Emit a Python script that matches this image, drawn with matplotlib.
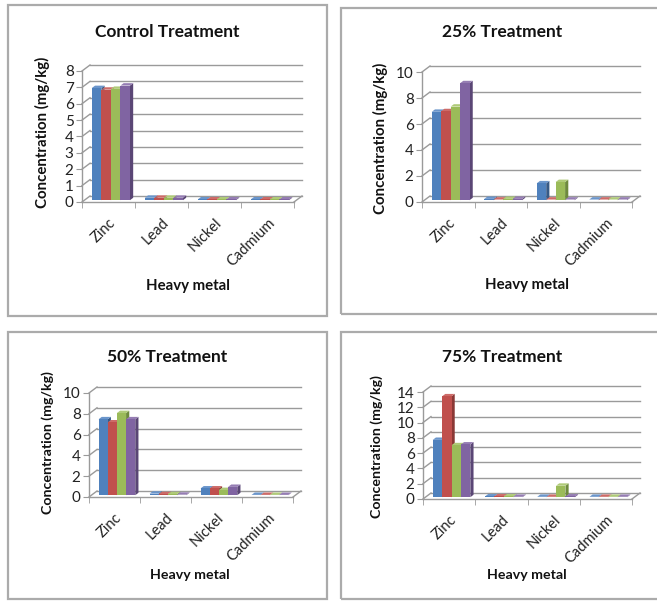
import matplotlib
matplotlib.use("Agg")
import matplotlib.pyplot as plt
from matplotlib.patches import Polygon, Rectangle

plt.rcParams["font.family"] = ["Lato", "DejaVu Sans"]

metals = ["Zinc", "Lead", "Nickel", "Cadmium"]
front_colors = ["#4F81BD", "#C0504D", "#9BBB59", "#8064A2"]
side_colors = ["#375A86", "#8A3835", "#6E8A3D", "#5A4675"]
top_colors = ["#6A95CB", "#CD6B68", "#AFCA78", "#957DB3"]

# rows = the four series, columns = metals
control = [
    [6.85, 0.15, 0.05, 0.05],
    [6.75, 0.15, 0.05, 0.05],
    [6.8, 0.15, 0.05, 0.05],
    [7.0, 0.15, 0.05, 0.05],
]
treat25 = [
    [6.8, 0.1, 1.3, 0.05],
    [6.85, 0.05, 0.05, 0.05],
    [7.2, 0.1, 1.4, 0.05],
    [9.0, 0.1, 0.05, 0.05],
]
treat50 = [
    [7.3, 0.15, 0.65, 0.03],
    [7.0, 0.1, 0.65, 0.03],
    [7.9, 0.1, 0.5, 0.03],
    [7.3, 0.05, 0.8, 0.03],
]
treat75 = [
    [7.5, 0.1, 0.05, 0.05],
    [13.2, 0.1, 0.05, 0.05],
    [6.8, 0.1, 1.5, 0.05],
    [6.9, 0.05, 0.1, 0.05],
]

W, H = 657, 601
fig = plt.figure(figsize=(W / 100, H / 100), dpi=100)
DX, DY = 8, 6  # depth of the 3d box in pixels
GRID = "#9a9a9a"


def fx(px):
    return px / W


def fy(py):
    return 1 - py / H


def panel(box, axbox, title, vals, ymax, ystep, title_xy, ylab_xy, xlab_xy, lab_fs):
    x0, y0, x1, y1 = box
    fig.add_artist(Rectangle((fx(x0), fy(y1)), fx(x1) - fx(x0), fy(y0) - fy(y1),
                             transform=fig.transFigure, fill=False, ec="#ababab", lw=1.6))
    l, t, r, b = axbox
    ax = fig.add_axes([fx(l), fy(b), fx(r) - fx(l), fy(t) - fy(b)])
    ax.set_xlim(0, 4)
    ax.set_ylim(0, ymax)
    ax.patch.set_visible(False)
    for s in ["top", "right"]:
        ax.spines[s].set_visible(False)
    for s in ["left", "bottom"]:
        ax.spines[s].set_color(GRID)
        ax.spines[s].set_linewidth(1.0)
    ddx = DX * 4 / (r - l)
    ddy = DY * ymax / (b - t)

    yt = list(range(0, ymax + 1, ystep))
    for v in yt:
        ax.plot([ddx, 4 + ddx], [v + ddy, v + ddy], color=GRID, lw=1.0, zorder=0.5, clip_on=False)
        ax.plot([0, ddx], [v, v + ddy], color=GRID, lw=1.0, zorder=0.5, clip_on=False)
    ax.plot([4, 4 + ddx], [0, ddy], color=GRID, lw=1.0, zorder=0.5, clip_on=False)

    ax.set_yticks(yt)
    ax.tick_params(axis="y", length=4, color=GRID, labelsize=11, pad=2, labelcolor="#222222")
    ax.set_xticks([0, 1, 2, 3, 4], minor=True)
    ax.set_xticks([0.5, 1.5, 2.5, 3.5])
    ax.set_xticklabels(metals, rotation=45, ha="right", va="top", rotation_mode="anchor",
                       fontsize=10.5, color="#222222")
    ax.tick_params(axis="x", which="major", length=0, pad=10)
    ax.tick_params(axis="x", which="minor", length=4, color=GRID)

    bw = 0.18
    f, d = 0.3, 0.4
    for j in range(len(metals)):
        for i, series in enumerate(vals):
            v = series[j]
            xl = j + 0.5 - 2 * bw + i * bw
            xr = xl + bw
            side = [(xr + f * ddx, f * ddy), (xr + f * ddx, v + f * ddy),
                    (xr + (f + d) * ddx, v + (f + d) * ddy), (xr + (f + d) * ddx, (f + d) * ddy)]
            top = [(xl + f * ddx, v + f * ddy), (xr + f * ddx, v + f * ddy),
                   (xr + (f + d) * ddx, v + (f + d) * ddy), (xl + (f + d) * ddx, v + (f + d) * ddy)]
            ax.add_patch(Polygon(side, closed=True, fc=side_colors[i], ec="none", clip_on=False))
            ax.add_patch(Polygon(top, closed=True, fc=top_colors[i], ec="none", clip_on=False))
            ax.bar(xl + f * ddx, v, width=bw, bottom=f * ddy, align="edge",
                   color=front_colors[i], clip_on=False)

    fig.text(fx(title_xy[0]), fy(title_xy[1]), title, ha="center", va="center",
             fontsize=12.5, fontweight="bold", color="#111111")
    fig.text(fx(ylab_xy[0]), fy(ylab_xy[1]), "Concentration (mg/kg)", ha="center", va="center",
             rotation=90, fontsize=lab_fs, fontweight="bold", color="#111111")
    fig.text(fx(xlab_xy[0]), fy(xlab_xy[1]), "Heavy metal", ha="center", va="center",
             fontsize=lab_fs, fontweight="bold", color="#111111")


panel((8, 5, 327, 316), (82, 71, 294, 202), "Control Treatment", control, 8, 1,
      (167, 32), (42, 132), (188, 286), 10.8)
panel((341, 8, 670, 314), (422, 72, 632, 202), "25% Treatment", treat25, 10, 2,
      (502, 32), (380, 138), (527, 285), 10.8)
panel((8, 332, 327, 599), (89, 393, 293, 497), "50% Treatment", treat50, 10, 2,
      (167, 357), (48, 443), (190, 575), 10.2)
panel((341, 332, 670, 599), (423, 392, 632, 499), "75% Treatment", treat75, 14, 2,
      (502, 357), (377, 447), (527, 575), 10.2)

fig.savefig("out.png", dpi=100)
